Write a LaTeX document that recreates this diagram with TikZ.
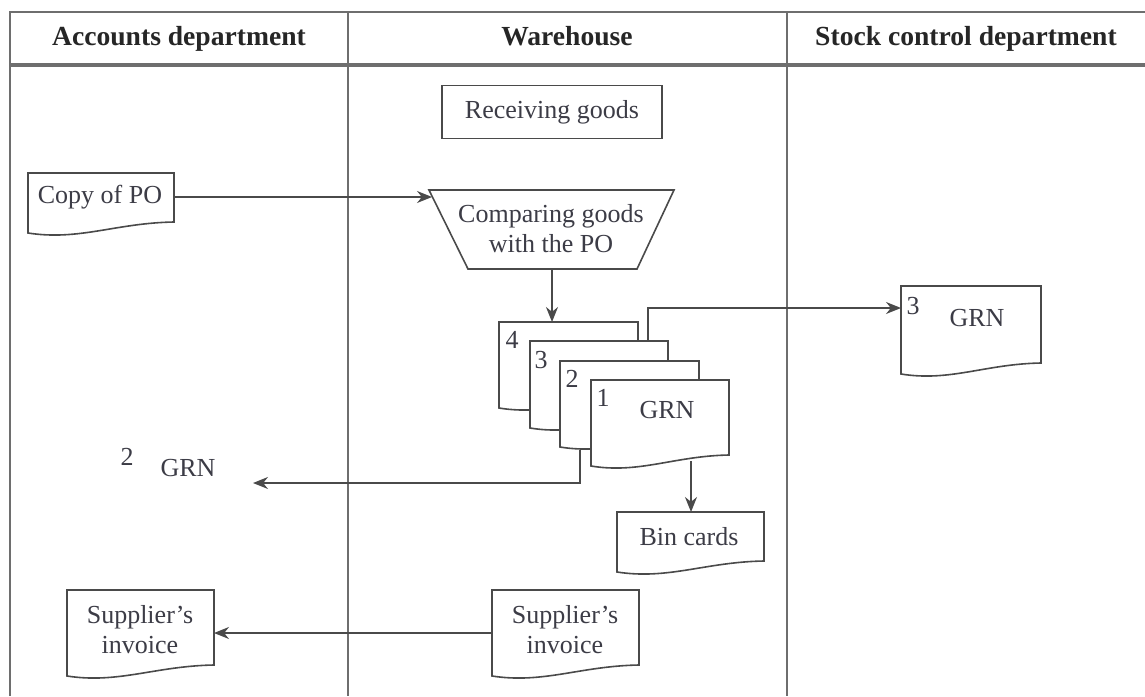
\documentclass[tikz,border=0pt]{standalone}
\usepackage{fontspec}
\setmainfont{Liberation Serif}
\usetikzlibrary{arrows.meta}
\definecolor{tabcol}{HTML}{6E6E6E}
\definecolor{shcol}{HTML}{4A4A4A}
\definecolor{txtcol}{HTML}{3C3C46}
\tikzset{
  tabline/.style={draw=tabcol, line width=1pt},
  docbox/.style={draw=shcol, line width=0.8pt, fill=white},
  lbl/.style={text=txtcol, font=\fontsize{13}{15}\selectfont, align=center, inner sep=0pt},
  hdr/.style={text=black!85, font=\fontsize{13.8}{16}\selectfont\bfseries, inner sep=0pt, anchor=base},
  conn/.style={draw=shcol, line width=0.8pt},
  arr/.style={conn, -{Stealth[length=7.5pt,width=6pt]}}
}
% document shape: L, T, R, B (left-bottom y)
\newcommand\docshape[4]{%
  \draw[docbox] (#1,#2) -- (#3,#2) -- (#3,#4-11)
    .. controls ({#1+0.6*(#3-#1)},#4-10) and ({#1+0.35*(#3-#1)},#4+8) .. (#1,#4) -- cycle;%
}
\begin{document}
\begin{tikzpicture}[x=0.5pt,y=-0.5pt]
\useasboundingbox (0,0) rectangle (1145,696);
\fill[white] (0,0) rectangle (1145,696);
% table
\draw[tabline] (10,696) -- (10,12) -- (1145,12);
\draw[tabcol, line width=1.6pt] (10,65) -- (1145,65);
\draw[tabline] (348,12) -- (348,696);
\draw[tabline] (787,12) -- (787,696);
\node[hdr] (h1) at (179,46) {Accounts department};
\node[hdr] (h2) at (567,46) {Warehouse};
\node[hdr] (h3) at (966,46) {Stock control department};
% receiving goods
\node[draw=shcol, line width=0.8pt, minimum width=110pt, minimum height=26.5pt, lbl] (recv) at (552,112) {Receiving goods};
% copy of PO
\docshape{28}{173}{174}{233}
\node[lbl] (copy) at (100,197) {Copy of PO};
\coordinate (copyR) at (174,197);
% comparing trapezoid
\draw[docbox] (429,190) -- (674,190) -- (637,269) -- (468,269) -- cycle;
\node[lbl] (cmp) at (551,229) {Comparing goods\\with the PO};
\coordinate (cmpL) at (432,197);
\coordinate (cmpB) at (552,269);
\draw[arr] (copyR) -- (cmpL);
% GRN stack
\docshape{499}{322}{638}{408}
\docshape{530}{341}{668}{428}
\docshape{560}{361}{699}{447}
\docshape{591}{380}{729}{466}
\node[lbl] (n4) at (512,340) {4};
\node[lbl] (n3) at (541,360) {3};
\node[lbl] (n2) at (572,379) {2};
\node[lbl] (n1) at (603,398) {1};
\node[lbl] (grn1) at (667,410) {GRN};
\coordinate (d4T) at (552,322);
\coordinate (d3T) at (648,341);
\coordinate (d2B) at (580,450);
\coordinate (d1B) at (691,461);
\draw[arr] (cmpB) -- (d4T);
% GRN copy 3
\docshape{901}{286}{1041}{374}
\node[lbl] (g3n) at (913,306) {3};
\node[lbl] (g3) at (977,318) {GRN};
\coordinate (g3L) at (901,308);
\draw[arr] (d3T) |- (g3L);
% GRN copy 2 (accounts)
\node[lbl] (g2n) at (127,457) {2};
\node[lbl] (g2) at (188,468) {GRN};
\coordinate (g2end) at (253,483);
\draw[arr] (d2B) |- (g2end);
% bin cards
\docshape{617}{512}{764}{572}
\node[lbl] (bin) at (689,537) {Bin cards};
\coordinate (binT) at (691,512);
\draw[arr] (d1B) -- (binT);
% supplier's invoices
\docshape{67}{590}{214}{676}
\node[lbl] (inv1) at (140,630) {Supplier's\\invoice};
\docshape{492}{590}{639}{676}
\node[lbl] (inv2) at (565,630) {Supplier's\\invoice};
\coordinate (inv1R) at (214,633);
\coordinate (inv2L) at (492,633);
\draw[arr] (inv2L) -- (inv1R);
\end{tikzpicture}
\end{document}
